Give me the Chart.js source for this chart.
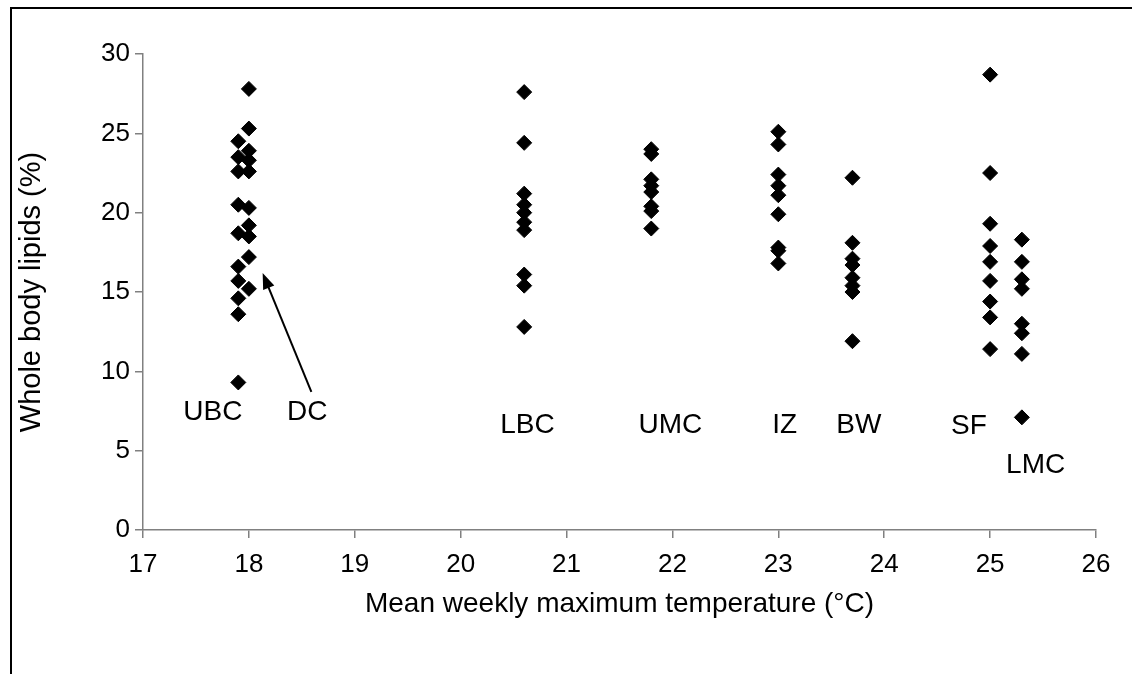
<!DOCTYPE html>
<html>
<head>
<meta charset="utf-8">
<title>Whole body lipids vs temperature</title>
<script src="https://cdn.jsdelivr.net/npm/chart.js@4.4.1/dist/chart.umd.min.js"></script>
<style>
  html, body { margin: 0; padding: 0; background: #fff; }
  #wrap { position: relative; width: 1132px; height: 674px; overflow: hidden; }
  #frame { position: absolute; left: 10px; top: 7px; width: 1200px; height: 700px;
           border-top: 2px solid #000; border-left: 2px solid #000; }
  canvas { position: absolute; left: 0; top: 0; }
</style>
</head>
<body>
<div id="wrap">
  <div id="frame"></div>
  <canvas id="lipidChart" width="1132" height="674"></canvas>
</div>
<script>
// sites and their mean weekly maximum temperature (°C)
const sites = ['UBC', 'DC', 'LBC', 'UMC', 'IZ', 'BW', 'SF', 'LMC'];
const siteTemps = [17.9, 18.0, 20.6, 21.8, 23.0, 23.7, 25.0, 25.3];

// whole body lipids (%) per fish, one array per site
const lipidsUBC = [24.5, 23.5, 22.6, 20.5, 18.7, 16.6, 15.7, 14.6, 13.6, 9.3];
const lipidsDC  = [27.8, 25.3, 23.9, 23.3, 22.6, 20.3, 19.2, 18.5, 17.2, 15.2];
const lipidsLBC = [27.6, 24.4, 21.2, 20.5, 20.0, 19.4, 18.9, 16.1, 15.4, 12.8];
const lipidsUMC = [24.0, 23.7, 22.1, 21.7, 21.3, 20.4, 20.1, 19.0];
const lipidsIZ  = [25.1, 24.3, 22.4, 21.7, 21.1, 19.9, 17.8, 17.6, 16.8];
const lipidsBW  = [22.2, 18.1, 17.1, 16.7, 15.9, 15.4, 15.0, 11.9];
const lipidsSF  = [28.7, 22.5, 19.3, 17.9, 16.9, 15.7, 14.4, 13.4, 11.4];
const lipidsLMC = [18.3, 16.9, 15.8, 15.2, 13.0, 12.4, 11.1, 7.1];

// axis ticks
const xTicks = [17, 18, 19, 20, 21, 22, 23, 24, 25, 26];
const yTicks = [0, 5, 10, 15, 20, 25, 30];

const lipidsBySite = [lipidsUBC, lipidsDC, lipidsLBC, lipidsUMC, lipidsIZ, lipidsBW, lipidsSF, lipidsLMC];

// build the scatter points from the arrays above
const points = [];
lipidsBySite.forEach((vals, i) => {
    vals.forEach(v => points.push({ x: siteTemps[i], y: v }));
});

// site label placement (data coords)
const labelSpots = {
    UBC: [17.66, 7.45], DC: [18.55, 7.45], LBC: [20.63, 6.6], UMC: [21.98, 6.6],
    IZ: [23.06, 6.6], BW: [23.76, 6.6], SF: [24.8, 6.55], LMC: [25.43, 4.1]
};

const fontFamily = '"Liberation Sans", Arial, sans-serif';

// draws site names and the DC arrow
const siteLabels = {
    id: 'siteLabels',
    afterDatasetsDraw(chart) {
        const ctx = chart.ctx;
        const xs = chart.scales.x, ys = chart.scales.y;
        ctx.save();
        ctx.fillStyle = '#000';
        ctx.font = '28px ' + fontFamily;
        ctx.textAlign = 'center';
        ctx.textBaseline = 'middle';
        sites.forEach(s => {
            const p = labelSpots[s];
            ctx.fillText(s, xs.getPixelForValue(p[0]), ys.getPixelForValue(p[1]));
        });

        // arrow from DC label up to the DC column
        const x1 = xs.getPixelForValue(18.59), y1 = ys.getPixelForValue(8.7);
        const x2 = xs.getPixelForValue(18.13), y2 = ys.getPixelForValue(16.2);
        const ang = Math.atan2(y2 - y1, x2 - x1);
        const headLen = 16, headW = 6;
        ctx.strokeStyle = '#000';
        ctx.lineWidth = 2;
        ctx.beginPath();
        ctx.moveTo(x1, y1);
        ctx.lineTo(x2 - Math.cos(ang) * headLen * 0.8, y2 - Math.sin(ang) * headLen * 0.8);
        ctx.stroke();
        ctx.beginPath();
        ctx.moveTo(x2, y2);
        ctx.lineTo(x2 - Math.cos(ang) * headLen + Math.sin(ang) * headW,
                   y2 - Math.sin(ang) * headLen - Math.cos(ang) * headW);
        ctx.lineTo(x2 - Math.cos(ang) * headLen - Math.sin(ang) * headW,
                   y2 - Math.sin(ang) * headLen + Math.cos(ang) * headW);
        ctx.closePath();
        ctx.fill();
        ctx.restore();
    }
};

const ctx = document.getElementById('lipidChart').getContext('2d');
const lipidChart = new Chart(ctx, {
    type: 'scatter',
    data: {
        datasets: [{
            label: 'Whole body lipids',
            data: points,
            pointStyle: 'rectRot',
            pointRadius: 7.5,
            pointBackgroundColor: '#000',
            pointBorderColor: '#000',
            pointBorderWidth: 1
        }]
    },
    options: {
        responsive: false,
        animation: false,
        layout: { padding: { left: 0, right: 36, top: 54, bottom: 0 } },
        plugins: {
            legend: { display: false },
            tooltip: { enabled: false }
        },
        scales: {
            x: {
                type: 'linear',
                min: xTicks[0],
                max: xTicks[xTicks.length - 1],
                afterFit: s => { s.height = 144; },
                afterBuildTicks: s => { s.ticks = xTicks.map(v => ({ value: v })); },
                ticks: { color: '#000', font: { family: fontFamily, size: 26 }, padding: 11, maxRotation: 0 },
                grid: { drawOnChartArea: false, color: '#808080', tickLength: 8, lineWidth: 1.5 },
                border: { color: '#808080', width: 1.5 },
                title: {
                    display: true,
                    text: 'Mean weekly maximum temperature (°C)',
                    color: '#000',
                    font: { family: fontFamily, size: 28 },
                    padding: { bottom: 53 }
                }
            },
            y: {
                min: yTicks[0],
                max: yTicks[yTicks.length - 1],
                afterFit: s => { s.width = 143; },
                afterBuildTicks: s => { s.ticks = yTicks.map(v => ({ value: v })); },
                ticks: { color: '#000', font: { family: fontFamily, size: 26 }, padding: 5 },
                grid: { drawOnChartArea: false, color: '#808080', tickLength: 8, lineWidth: 1.5 },
                border: { color: '#808080', width: 1.5 },
                title: {
                    display: true,
                    text: 'Whole body lipids (%)',
                    color: '#000',
                    font: { family: fontFamily, size: 29 },
                    padding: { top: 15 }
                }
            }
        }
    },
    plugins: [siteLabels]
});
</script>
</body>
</html>
